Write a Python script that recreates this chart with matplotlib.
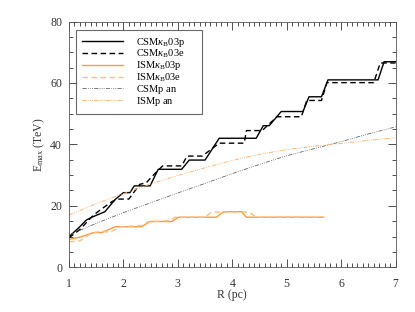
import numpy as np
import matplotlib
matplotlib.use("Agg")
import matplotlib.pyplot as plt
from matplotlib.ticker import MultipleLocator

plt.rcParams['font.family'] = ['Liberation Serif', 'DejaVu Serif']
plt.rcParams['mathtext.fontset'] = 'custom'
plt.rcParams['mathtext.rm'] = 'Liberation Serif'
plt.rcParams['mathtext.it'] = 'Liberation Serif:italic'

# CSM, kappa_B 03p (solid black)
r_csm_p = [1.0, 1.17, 1.32, 1.42, 1.66, 1.85, 2.0, 2.12, 2.2, 2.49, 2.64, 3.07, 3.21, 3.5, 3.76,
           4.44, 4.57, 4.68, 4.90, 5.30, 5.41, 5.64, 5.76, 6.68, 6.79, 7.0]
e_csm_p = [10.0, 12.7, 15.4, 16.3, 18.1, 22.1, 24.3, 24.3, 26.5, 26.5, 31.9, 31.9, 34.9, 34.9, 42.0,
           42.0, 46.1, 46.1, 50.7, 50.7, 55.5, 55.5, 61.0, 61.0, 66.9, 66.9]
# CSM, kappa_B 03e (dashed black)
r_csm_e = [1.0, 1.2, 1.45, 1.6, 1.8, 1.92, 2.1, 2.3, 2.42, 2.55, 2.72, 3.07, 3.17, 3.45, 3.76,
           4.22, 4.26, 4.55, 4.82, 5.27, 5.37, 5.64, 5.74, 6.6, 6.72, 7.0]
e_csm_e = [9.6, 12.3, 17.0, 19.0, 21.5, 22.2, 22.2, 27.0, 27.5, 30.0, 33.0, 33.0, 36.2, 36.2, 40.4,
           40.4, 44.5, 44.5, 49.0, 49.0, 54.3, 54.3, 60.1, 60.1, 66.5, 66.5]
# ISM, kappa_B 03p (solid orange)
r_ism_p = [1.0, 1.2, 1.45, 1.6, 1.85, 2.33, 2.49, 2.89, 3.01, 3.71, 3.84, 4.17, 4.26, 5.68]
e_ism_p = [9.1, 9.8, 11.3, 11.3, 13.2, 13.2, 14.9, 14.9, 16.3, 16.3, 18.1, 18.1, 16.3, 16.3]
# ISM, kappa_B 03e (dashed orange)
r_ism_e = [1.0, 1.2, 1.4, 1.6, 1.75, 1.95, 2.35, 2.45, 2.85, 2.95, 3.5, 3.62, 4.3, 4.45, 5.68]
e_ism_e = [8.3, 8.6, 11.0, 11.8, 11.4, 13.2, 13.6, 14.8, 15.2, 16.3, 16.3, 18.0, 18.0, 16.3, 16.3]
# analytic curves
r_an = [1.0, 1.5, 2.0, 2.5, 3.0, 3.5, 4.0, 4.5, 5.0, 5.5, 6.0, 6.5, 7.0]
e_csm_an = [10.5, 14.3, 17.8, 21.0, 24.2, 27.3, 30.5, 33.5, 36.3, 38.6, 40.9, 43.4, 45.7]
e_ism_an = [17.0, 20.7, 24.0, 27.1, 29.9, 32.4, 34.8, 36.8, 38.3, 39.4, 40.3, 41.3, 42.2]

labels = [r'CSM$\kappa_{\rm B}$03p', r'CSM$\kappa_{\rm B}$03e', r'ISM$\kappa_{\rm B}$03p',
          r'ISM$\kappa_{\rm B}$03e', r'CSMp an$_{\rm\ }$', r'ISMp an$_{\rm\ }$']

orange = '#ff9a3c'
orange_light = '#ffbf80'
ddot = (0, (5, 1.5, 1, 1.5, 1, 1.5, 1, 1.5))

fig = plt.figure(figsize=(4.15, 3.12), dpi=100)
ax = fig.add_axes([69 / 415, 1 - 267.3 / 312, 326.5 / 415, 245.8 / 312])

ax.plot(r_csm_p, e_csm_p, color='black', lw=1.0, label=labels[0])
ax.plot(r_csm_e, e_csm_e, color='black', lw=1.0, ls=(0, (4, 2.5)), label=labels[1])
ax.plot(r_ism_p, e_ism_p, color=orange, lw=1.0, label=labels[2])
ax.plot(r_ism_e, e_ism_e, color=orange_light, lw=1.0, ls=(0, (4, 2.5)), label=labels[3])
ax.plot(r_an, e_csm_an, color='#666666', lw=0.6, ls=ddot, label=labels[4])
ax.plot(r_an, e_ism_an, color='#ffaa60', lw=0.6, ls=ddot, label=labels[5])

ax.set_xlim(1, 7)
ax.set_ylim(0, 80)
ax.xaxis.set_major_locator(MultipleLocator(1))
ax.xaxis.set_minor_locator(MultipleLocator(0.1))
ax.yaxis.set_major_locator(MultipleLocator(20))
ax.yaxis.set_minor_locator(MultipleLocator(5))
ax.tick_params(which='both', direction='in', top=True, right=True, labelsize=8.5,
               colors='#333333', width=0.6)
ax.tick_params(which='major', length=6)
ax.tick_params(which='minor', length=3)
ax.tick_params(axis='x', which='major', pad=8)
ax.tick_params(axis='y', which='major', pad=5)
for s in ax.spines.values():
    s.set_linewidth(0.6)
    s.set_color('#555555')

ax.set_xlabel('R (pc)', fontsize=8.5, color='#333333', labelpad=-1)
ax.set_ylabel(r'E$_{\rm max}$ (TeV)', fontsize=8.5, color='#333333', labelpad=2)

leg = ax.legend(loc='upper left', bbox_to_anchor=(7 / 326.5, 1 - 10.5 / 245.8, 126 / 326.5, 0.01),
                mode='expand', borderaxespad=0, fontsize=7.5, handlelength=3.9,
                handletextpad=1.3, labelspacing=-0.1, borderpad=0.6, fancybox=False)
leg.get_frame().set_edgecolor('#444444')
leg.get_frame().set_linewidth(0.8)

fig.savefig('out.png', dpi=100)
